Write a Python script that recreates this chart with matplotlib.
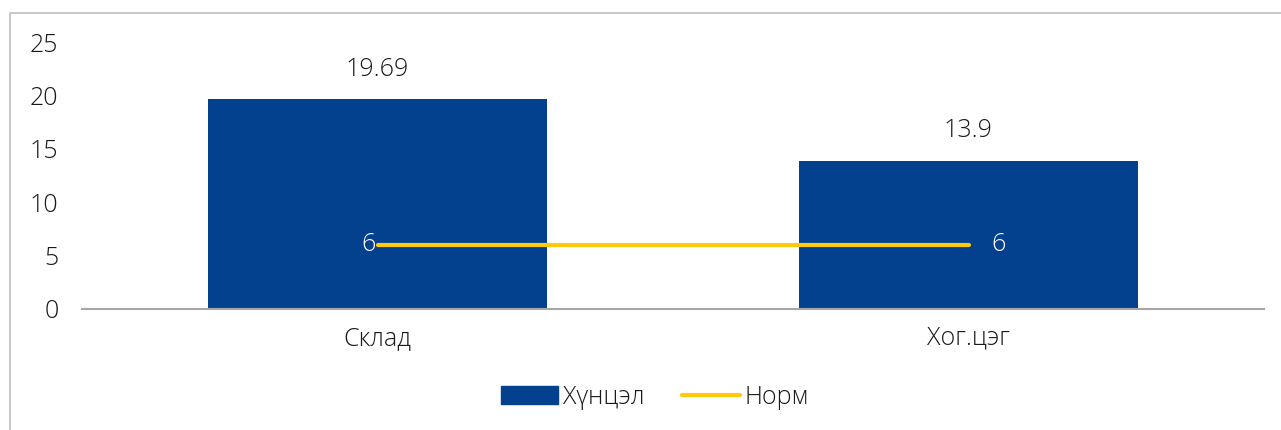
import matplotlib.pyplot as plt
from matplotlib.patches import Rectangle
from matplotlib.lines import Line2D

categories = ["Склад", "Хог.цэг"]
actual = [19.69, 13.9]
norm = [6, 6]
actual_labels = ["19.69", "13.9"]
yticks = [0, 5, 10, 15, 20, 25]

plt.rcParams['font.family'] = ['Open Sans', 'DejaVu Sans']
FS = 18
TXT = '#1a1a1a'

W, H = 1281, 430
fig = plt.figure(figsize=(W / 100, H / 100), dpi=100)

# outer frame (only top and left edges fall inside the canvas)
fig.patches.append(Rectangle((10 / W, -0.1), 1.2, 1 - 13 / H + 0.1,
                             transform=fig.transFigure, fill=False,
                             edgecolor='#BFBFBF', linewidth=1.2))

ax = fig.add_axes([82 / W, 1 - 309 / H, (1264 - 82) / W, (309 - 42) / H])

bar_color = '#03418F'
line_color = '#FFC90E'
x = list(range(len(categories)))

ax.bar(x, actual, width=0.572, color=bar_color, zorder=2)
ax.plot(x, norm, color=line_color, linewidth=3, solid_capstyle='round', zorder=3)

for xi, v, lab in zip(x, actual, actual_labels):
    ax.text(xi, v + 1.6, lab, ha='center', va='bottom', fontsize=FS, color=TXT,
            fontweight='light')

ax.annotate(str(norm[0]), (x[0], norm[0]), xytext=(-1, 0), textcoords='offset points',
            ha='right', va='center', fontsize=FS, color='white', zorder=4,
            fontweight='light')
ax.annotate(str(norm[1]), (x[1], norm[1]), xytext=(16.5, 0), textcoords='offset points',
            ha='left', va='center', fontsize=FS, color='white', zorder=4,
            fontweight='light')

ax.set_xlim(-0.5, 1.5)
ax.set_ylim(0, 25)
ax.set_yticks(yticks)
ax.set_yticklabels([str(t) for t in yticks], fontsize=FS, color=TXT, fontweight='light')
ax.set_xticks(x)
ax.set_xticklabels(categories, fontsize=FS, color=TXT, fontweight='light')
ax.tick_params(axis='both', length=0)
ax.tick_params(axis='y', pad=17)
ax.tick_params(axis='x', pad=12)
for side in ['top', 'right', 'left']:
    ax.spines[side].set_visible(False)
ax.spines['bottom'].set_color('#A6A6A6')
ax.spines['bottom'].set_linewidth(1.5)
ax.spines['bottom'].set_zorder(5)

handles = [Rectangle((0, 0), 1, 1, color=bar_color),
           Line2D([0], [0], color=line_color, linewidth=3, solid_capstyle='round')]
fig.legend(handles, ["Хүнцэл", "Норм"], loc='center', bbox_to_anchor=(655 / W, 1 - 397 / H),
           ncol=2, frameon=False, prop={'size': FS, 'weight': 'light'},
           handlelength=2.3, handletextpad=0.2, columnspacing=1.5, labelcolor=TXT)

fig.savefig('out.png', dpi=100)
